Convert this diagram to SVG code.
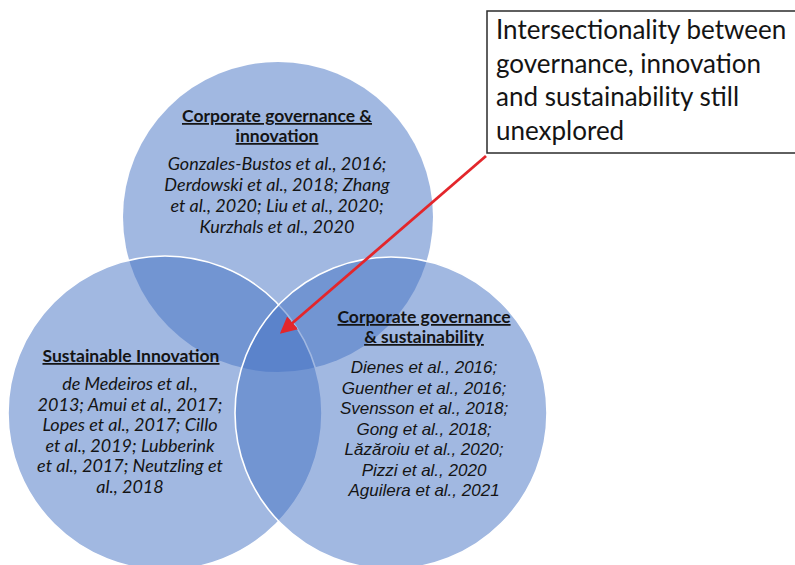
<svg xmlns="http://www.w3.org/2000/svg" width="795" height="565" viewBox="0 0 795 565">
  <defs>
    <marker id="arrowhead" markerWidth="6" markerHeight="6" refX="5" refY="3" orient="auto" markerUnits="strokeWidth">
      <path d="M0,0 L6,3 L0,6 Z" fill="#e3262b"/>
    </marker>
  </defs>
  <style>
    .circle { fill: #4472c4; fill-opacity: 0.5; }
    .edge { stroke: #ffffff; stroke-width: 1.6; }
    .head { font-family: Lato, "Open Sans", sans-serif; font-weight: bold; font-size: 17.5px; fill: #141414; text-anchor: middle; text-decoration: underline; }
    .refs { font-family: Lato, "Open Sans", sans-serif; font-style: italic; font-size: 18px; fill: #141414; text-anchor: middle; }
    .refs2 { font-family: "Liberation Sans", Arial, sans-serif; font-style: italic; font-size: 17px; fill: #141414; text-anchor: middle; }
    .note { font-family: Lato, "Open Sans", sans-serif; font-size: 26px; fill: #141414; }
    .connector { stroke: #e3262b; stroke-width: 2.8; fill: none; }
  </style>

  <rect width="795" height="565" fill="#ffffff"/>

  <!-- three overlapping sets -->
  <g id="governance-innovation">
    <circle class="circle" cx="278" cy="217" r="155"/>
    <text class="head" x="277" y="122">Corporate governance &amp;</text>
    <text class="head" x="277" y="142">innovation</text>
    <text class="refs" x="277" y="170">Gonzales-Bustos et al., 2016;</text>
    <text class="refs" x="277" y="191">Derdowski et al., 2018; Zhang</text>
    <text class="refs" x="277" y="212">et al., 2020; Liu et al., 2020;</text>
    <text class="refs" x="277" y="233">Kurzhals et al., 2020</text>
  </g>

  <g id="sustainable-innovation">
    <circle class="circle edge" cx="165" cy="413" r="157"/>
    <text class="head" x="131" y="362">Sustainable Innovation</text>
    <text class="refs" x="130" y="390">de Medeiros et al.,</text>
    <text class="refs" x="130" y="410.5">2013; Amui et al., 2017;</text>
    <text class="refs" x="130" y="431">Lopes et al., 2017; Cillo</text>
    <text class="refs" x="130" y="451.5">et al., 2019; Lubberink</text>
    <text class="refs" x="130" y="472">et al., 2017; Neutzling et</text>
    <text class="refs" x="130" y="492.5">al., 2018</text>
  </g>

  <g id="governance-sustainability">
    <circle class="circle edge" cx="391" cy="413" r="156"/>
    <text class="head" x="424" y="323">Corporate governance</text>
    <text class="head" x="424" y="343">&amp; sustainability</text>
    <text class="refs2" x="424" y="373">Dienes et al., 2016;</text>
    <text class="refs2" x="424" y="393.5">Guenther et al., 2016;</text>
    <text class="refs2" x="424" y="414">Svensson et al., 2018;</text>
    <text class="refs2" x="424" y="434.5">Gong et al., 2018;</text>
    <text class="refs2" x="424" y="455">Lăzăroiu et al., 2020;</text>
    <text class="refs2" x="424" y="475.5">Pizzi et al., 2020</text>
    <text class="refs2" x="424" y="496">Aguilera et al., 2021</text>
  </g>

  <!-- callout pointing at the common intersection -->
  <g id="connectors">
    <line class="connector" x1="486" y1="156" x2="282" y2="332" marker-end="url(#arrowhead)"/>
  </g>

  <g id="callout">
    <rect x="487" y="11" width="320" height="142" fill="#ffffff" stroke="#2b2b2b" stroke-width="1.5"/>
    <text class="note" x="496" y="39">Intersectionality between</text>
    <text class="note" x="496" y="73">governance, innovation</text>
    <text class="note" x="496" y="106">and sustainability still</text>
    <text class="note" x="496" y="140">unexplored</text>
  </g>
</svg>
